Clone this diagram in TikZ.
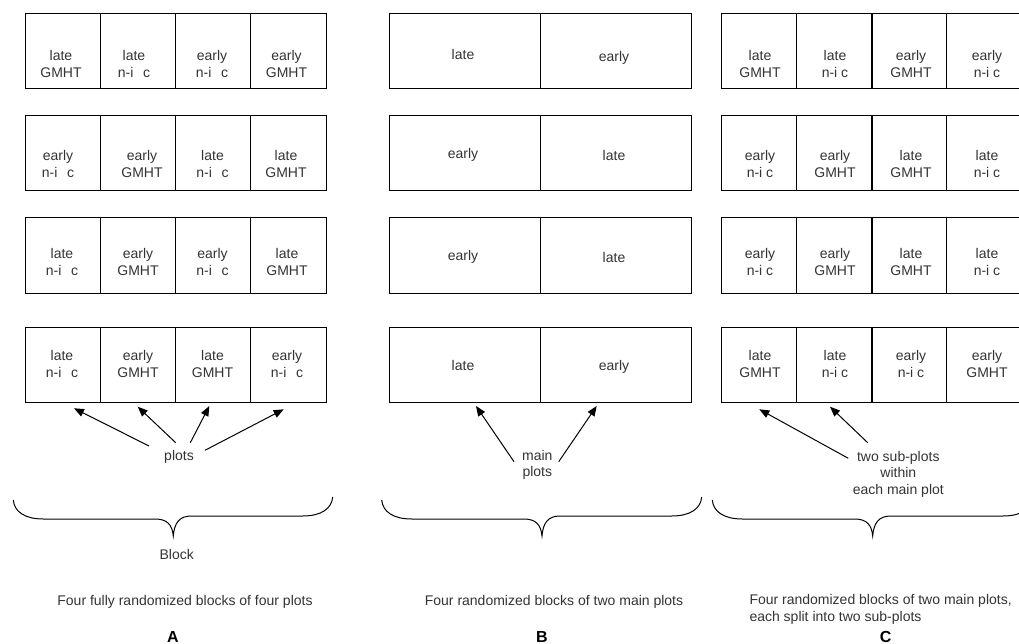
\documentclass[tikz,border=0pt]{standalone}
\usepackage{fontspec}
\setmainfont{Liberation Sans}
\usetikzlibrary{arrows.meta}
\definecolor{txt}{HTML}{333333}
\newcommand{\nicgap}{n-i\hspace{0.7em}c}
\newcommand{\curlyb}[3]{%
  \draw[bracepath] (#1,500) .. controls ({#1+1},512) and ({#1+12},519) .. ({#1+30},519)
    -- ({#2-18},519) .. controls ({#2-6},519) and ({#2-1},525) .. (#2,536)
    .. controls ({#2+1},523) and ({#2+6},516) .. ({#2+18},516)
    -- ({#3-30},516) .. controls ({#3-12},516) and ({#3-1},509) .. (#3,497);}
\begin{document}
\begin{tikzpicture}[x=1pt,y=-1pt,
  cell/.style={draw=black, line width=1pt, inner sep=0pt, minimum height=75pt},
  qcell/.style={cell, minimum width=75.25pt},
  hcell/.style={cell, minimum width=151pt},
  lbl/.style={text=txt, font=\fontsize{14}{17}\selectfont, align=center, inner sep=0pt},
  note/.style={text=txt, font=\fontsize{14}{16.5}\selectfont, align=center, inner sep=0pt},
  arr/.style={draw=black, line width=1pt, -{Triangle[length=10pt,width=8pt]}},
  bracepath/.style={draw=black, line width=1pt},
  mainsplit/.style={draw=black, line width=1.8pt},
  paneltitle/.style={font=\fontsize{16}{19}\selectfont\bfseries, text=black, inner sep=0pt},
]
\useasboundingbox (0,0) rectangle (1019,644);
\clip (0,0) rectangle (1019,644);

% cells
\foreach \r/\yc in {1/51.5,2/153.5,3/255.5,4/364.5}{
  \foreach \c in {1,...,4}{
    \node[qcell] (A\r\c) at ({25+75.25*(\c-0.5)},\yc) {};
    \node[qcell] (C\r\c) at ({721+75.25*(\c-0.5)},\yc) {};
  }
  \node[hcell] (B\r1) at (464.5,\yc) {};
  \node[hcell] (B\r2) at (615.5,\yc) {};
  \draw[mainsplit] (B\r1.north east) -- (B\r1.south east);
  \draw[mainsplit] (C\r2.north east) -- (C\r2.south east);
}

% panel A labels
\node[lbl] (tA11) at (61,63.5) {late\\GMHT};
\node[lbl] (tA12) at (134,63.5) {late\\\nicgap};
\node[lbl] (tA13) at (212,63.5) {early\\\nicgap};
\node[lbl] (tA14) at (286.5,63.5) {early\\GMHT};
\node[lbl] (tA21) at (58,163.5) {early\\\nicgap};
\node[lbl] (tA22) at (142,163.5) {early\\GMHT};
\node[lbl] (tA23) at (212.5,163.5) {late\\\nicgap};
\node[lbl] (tA24) at (286,163.5) {late\\GMHT};
\node[lbl] (tA31) at (62,261.5) {late\\\nicgap};
\node[lbl] (tA32) at (138,261.5) {early\\GMHT};
\node[lbl] (tA33) at (212.5,261.5) {early\\\nicgap};
\node[lbl] (tA34) at (287,261.5) {late\\GMHT};
\node[lbl] (tA41) at (62,363.5) {late\\\nicgap};
\node[lbl] (tA42) at (138,363.5) {early\\GMHT};
\node[lbl] (tA43) at (212.5,363.5) {late\\GMHT};
\node[lbl] (tA44) at (287,363.5) {early\\\nicgap};

% panel B labels
\node[lbl, anchor=base] (tB11) at (463,60) {late};
\node[lbl, anchor=base] (tB12) at (614,62) {early};
\node[lbl, anchor=base] (tB21) at (463,159) {early};
\node[lbl, anchor=base] (tB22) at (614,161) {late};
\node[lbl, anchor=base] (tB31) at (463,261) {early};
\node[lbl, anchor=base] (tB32) at (614,262.5) {late};
\node[lbl, anchor=base] (tB41) at (463,370.5) {late};
\node[lbl, anchor=base] (tB42) at (614,370.5) {early};

% panel C labels
\node[lbl] (tC11) at (760,63.5) {late\\GMHT};
\node[lbl] (tC12) at (835,63.5) {late\\n-i c};
\node[lbl] (tC13) at (911,63.5) {early\\GMHT};
\node[lbl] (tC14) at (987,63.5) {early\\n-i c};
\node[lbl] (tC21) at (760,164) {early\\n-i c};
\node[lbl] (tC22) at (835,164) {early\\GMHT};
\node[lbl] (tC23) at (911,164) {late\\GMHT};
\node[lbl] (tC24) at (987,164) {late\\n-i c};
\node[lbl] (tC31) at (760,261.5) {early\\n-i c};
\node[lbl] (tC32) at (835,261.5) {early\\GMHT};
\node[lbl] (tC33) at (911,261.5) {late\\GMHT};
\node[lbl] (tC34) at (987,261.5) {late\\n-i c};
\node[lbl] (tC41) at (760,363.5) {late\\GMHT};
\node[lbl] (tC42) at (835,363.5) {late\\n-i c};
\node[lbl] (tC43) at (911,363.5) {early\\n-i c};
\node[lbl] (tC44) at (987,363.5) {early\\GMHT};

% notes
\node[note] (plotsA) at (179,456.7) {plots};
\node[note] (plotsB) at (537.3,465) {main\\plots};
\node[note] (plotsC) at (898.3,474) {two sub-plots\\within\\each main plot};

% arrow ends
\coordinate (sA1) at (149,446);   \coordinate (eA1) at (74,408.3);
\coordinate (sA2) at (175.7,442.7); \coordinate (eA2) at (137.7,406.7);
\coordinate (sA3) at (190.3,442.7); \coordinate (eA3) at (209.3,406);
\coordinate (sA4) at (205,450.3); \coordinate (eA4) at (283.7,409.3);
\coordinate (sB1) at (514,461.7); \coordinate (eB1) at (476,406);
\coordinate (sB2) at (558.7,461.7); \coordinate (eB2) at (596.7,406);
\coordinate (sC1) at (848.3,458.3); \coordinate (eC1) at (759.3,409.3);
\coordinate (sC2) at (867.7,442.7); \coordinate (eC2) at (830,406.7);
\foreach \k in {A1,A2,A3,A4,B1,B2,C1,C2}{\draw[arr] (s\k) -- (e\k);}

% braces
\curlyb{13.3}{173.3}{332.7}
\curlyb{381.7}{542}{701.7}
\curlyb{712.3}{872.7}{1033}

\node[note] (blockA) at (176.7,554) {Block};

% captions
\node[note] (capA) at (185,602) {Four fully randomized blocks of four plots};
\node[note] (capB) at (554,602) {Four randomized blocks of two main plots};
\node[note, align=left, anchor=west] (capC) at (749.3,609.5) {Four randomized blocks of two main plots,\\each split into two sub-plots};
\node[paneltitle] (ttA) at (173,637) {A};
\node[paneltitle] (ttB) at (542,637) {B};
\node[paneltitle] (ttC) at (885.7,637) {C};
\end{tikzpicture}
\end{document}
